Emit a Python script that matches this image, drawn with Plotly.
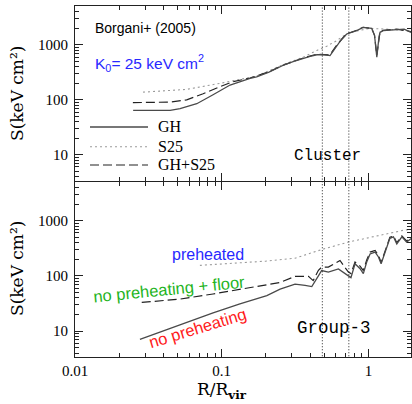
import plotly.graph_objects as go
from plotly.subplots import make_subplots

# ---------------- data ----------------
# Top panel: Cluster
gh_top_x = [0.0249, 0.0445, 0.052, 0.0676, 0.0873, 0.114, 0.156, 0.173, 0.21, 0.263, 0.31, 0.36, 0.40, 0.445,
            0.483, 0.547, 0.608, 0.66, 0.711, 0.832, 0.919, 1.053, 1.10, 1.14, 1.18, 1.20, 1.26, 1.40, 1.56, 1.75, 1.95]
gh_top_y = [64, 64, 69, 85, 124, 186, 245, 263, 320, 427, 500, 575, 620, 663,
            665, 640, 977, 1300, 1585, 1820, 2090, 2000, 1500, 600, 1400, 1700, 1820, 1850, 1900, 1950, 1700]

s25_top_x = [0.0291, 0.0577, 0.0973, 0.173, 0.263, 0.36, 0.445, 0.52, 0.608, 0.711, 0.832, 1.02, 1.3, 1.6, 1.95]
s25_top_y = [138, 155, 200, 270, 440, 600, 795, 950, 1200, 1600, 1800, 2000, 1950, 1900, 1800]

ghs25_top_x = [0.0248, 0.0445, 0.0577, 0.0747, 0.0973, 0.119, 0.156, 0.21, 0.263, 0.36, 0.445, 0.483, 0.547,
               0.608, 0.711, 0.832, 0.919, 1.053, 1.10, 1.14, 1.18, 1.20, 1.26, 1.56, 1.95]
ghs25_top_y = [89, 91, 100, 129, 174, 214, 250, 325, 430, 580, 680, 680, 660,
               1000, 1600, 1850, 2100, 2000, 1500, 650, 1400, 1750, 1850, 1950, 1750]

# Bottom panel: Group-3
noph_x = [0.0277, 0.052, 0.0873, 0.133, 0.203, 0.25, 0.316, 0.37, 0.411, 0.456, 0.48, 0.533, 0.624, 0.73, 0.76,
          0.81, 0.877, 0.923, 0.973, 1.026, 1.11, 1.17, 1.22, 1.30, 1.40, 1.48, 1.56, 1.69, 1.82, 1.97]
noph_y = [7.1, 13.2, 21.4, 31, 44, 57.5, 71, 67, 64, 100, 125, 117, 134, 100, 93,
          166, 135, 110, 178, 250, 270, 220, 166, 270, 480, 510, 380, 510, 410, 480]

floor_x = [0.0285, 0.052, 0.0873, 0.133, 0.182, 0.25, 0.316, 0.39, 0.42, 0.456, 0.48, 0.533, 0.64, 0.73, 0.76,
           0.81, 0.877, 0.923, 0.973, 1.026, 1.11, 1.17, 1.22, 1.30, 1.40, 1.48, 1.56, 1.69, 1.82, 1.97]
floor_y = [33, 38, 47, 57.5, 65, 76, 98, 98, 82, 126, 144, 144, 190, 117, 110,
           178, 150, 125, 195, 270, 290, 235, 175, 290, 500, 530, 400, 530, 430, 500]

preh_x = [0.071, 0.1, 0.2, 0.316, 0.48, 0.73, 1.11, 1.78, 1.95]
preh_y = [155, 165, 185, 209, 300, 410, 525, 680, 700]

# vertical reference radii
vlines_x = [0.485, 0.735]

# ticks
x_major = [0.01, 0.1, 1]
x_major_text = ["0.01", "0.1", "1"]
x_minor = [0.02, 0.03, 0.04, 0.05, 0.06, 0.07, 0.08, 0.09, 0.2, 0.3, 0.4, 0.5, 0.6, 0.7, 0.8, 0.9, 2]
y_major = [10, 100, 1000]
y_major_text = ["10", "100", "1000"]
y_minor = [4, 5, 6, 7, 8, 9, 20, 30, 40, 50, 60, 70, 80, 90, 200, 300, 400, 500, 600, 700, 800, 900,
           2000, 3000, 4000, 5000]

# ---------------- figure ----------------
W, H = 412, 404
ML, MR, MT, MB = 75, 1, 6, 47
PW, PH = W - ML - MR, H - MT - MB


def P(px, py):
    return (px - ML) / PW, (H - MB - py) / PH


split = P(0, 181)[1]

fig = make_subplots(rows=2, cols=1, shared_xaxes=True, vertical_spacing=0)

GH_STYLE = dict(color="#4a4a4a", width=1.3)
S25_STYLE = dict(color="#9a9a9a", width=1.1, dash="2px,3px")
DASH_STYLE = dict(color="#222222", width=1.2, dash="9px,4px")

fig.add_trace(go.Scatter(x=s25_top_x, y=s25_top_y, mode="lines", line=S25_STYLE), row=1, col=1)
fig.add_trace(go.Scatter(x=ghs25_top_x, y=ghs25_top_y, mode="lines", line=DASH_STYLE), row=1, col=1)
fig.add_trace(go.Scatter(x=gh_top_x, y=gh_top_y, mode="lines", line=GH_STYLE), row=1, col=1)

fig.add_trace(go.Scatter(x=preh_x, y=preh_y, mode="lines", line=S25_STYLE), row=2, col=1)
fig.add_trace(go.Scatter(x=floor_x, y=floor_y, mode="lines", line=DASH_STYLE), row=2, col=1)
fig.add_trace(go.Scatter(x=noph_x, y=noph_y, mode="lines", line=GH_STYLE), row=2, col=1)

for r in (1, 2):
    for vx in vlines_x:
        fig.add_trace(go.Scatter(x=[vx, vx], y=[1, 1e5], mode="lines",
                                 line=dict(color="#222", width=1, dash="1px,2px")), row=r, col=1)

axis_common = dict(
    type="log", showline=True, linecolor="#222", linewidth=1, mirror="ticks", automargin=False,
    ticks="inside", ticklen=8, tickwidth=1, tickcolor="#222", showgrid=False, zeroline=False,
    tickfont=dict(family="Liberation Serif", size=15, color="black"),
)
minor_x = dict(tickvals=x_minor, ticks="inside", ticklen=4, tickwidth=1, tickcolor="#222", showgrid=False)
minor_y = dict(tickvals=y_minor, ticks="inside", ticklen=4, tickwidth=1, tickcolor="#222", showgrid=False)

fig.update_xaxes(axis_common, range=[-2, 0.29], tickmode="array", tickvals=x_major, ticktext=x_major_text,
                 minor=minor_x)
fig.update_xaxes(showticklabels=False, row=1, col=1)
fig.update_yaxes(axis_common, range=[0.53, 3.71], tickmode="array", tickvals=y_major, ticktext=y_major_text,
                 minor=minor_y, ticklabelstandoff=3)
gap = 0.5 / PH
fig.update_yaxes(domain=[split + gap, 1], row=1, col=1)
fig.update_yaxes(domain=[0, split - gap], row=2, col=1)

ann = []


def text(px, py, s, size, family, color="black", xanchor="center", angle=0):
    x, y = P(px, py)
    ann.append(dict(x=x, y=y, xref="paper", yref="paper", text=s, showarrow=False, xanchor=xanchor,
                    yanchor="middle", textangle=angle,
                    font=dict(family=family, size=size, color=color)))


text(145, 28, "Borgani+ (2005)", 14, "Liberation Sans")
text(93, 63, "K<sub>0</sub>= 25 keV cm<sup>2</sup>", 15.5, "Liberation Sans", "#2828ff", xanchor="left")
text(156, 127, "GH", 16, "Liberation Serif", xanchor="left")
text(156, 146.7, "S25", 16, "Liberation Serif", xanchor="left")
text(156, 165, "GH+S25", 16, "Liberation Serif", xanchor="left")
text(327, 156, "Cluster", 16, "Liberation Mono")
text(334, 328, "Group-3", 17.5, "Liberation Mono")
text(208, 255, "preheated", 16, "Liberation Sans", "#2828ff")
text(169, 289, "no preheating + floor", 16.5, "Liberation Sans", "#1eb41e", angle=-5.6)
text(197, 328, "no preheating", 16.5, "Liberation Sans", "#ff1a1a", angle=-17)
text(17, 94, "S(keV cm²)", 17, "DejaVu Serif", angle=-90)
text(17, 269, "S(keV cm²)", 17, "DejaVu Serif", angle=-90)
text(222, 390, "R/R<sub><b>vir</b></sub>", 17, "DejaVu Serif")

shapes = []
for py, st in [(127, GH_STYLE), (146.7, S25_STYLE), (165, DASH_STYLE)]:
    x0, y0 = P(90, py)
    x1, _ = P(148, py)
    shapes.append(dict(type="line", xref="paper", yref="paper", x0=x0, x1=x1, y0=y0, y1=y0, line=st))

fig.update_layout(
    width=W, height=H, margin=dict(l=ML, r=MR, t=MT, b=MB, autoexpand=False),
    paper_bgcolor="white", plot_bgcolor="white", showlegend=False,
    annotations=ann, shapes=shapes,
)

fig.write_html("out.html", config={"displayModeBar": False},
               post_script="document.body.style.margin='0px';document.body.style.overflow='hidden';")
